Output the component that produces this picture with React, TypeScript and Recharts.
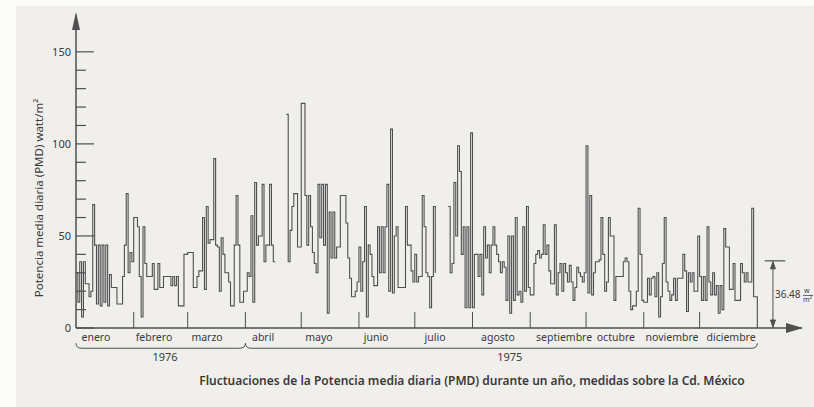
import { LineChart, Line, XAxis, YAxis, ReferenceLine, ReferenceDot } from "recharts";

// daily mean power (PMD), watt/m2, one value per day; null = no reading
const jan = [30, 14, 36, 6, 36, 24, 24, 17, 20, 67, 45, 13, 45, 12, 45, 14, 45, 12, 29, 22, 22, 22, 13, 13, 13, 28, 45, 73, 30, 41, 36];
const feb = [60, 60, 55, 28, 6, 55, 35, 28, 28, 28, 35, 21, 21, 35, 22, 22, 28, 28, 28, 28, 23, 28, 23, 28, 12, 12, 12, 40, 40];
const mar = [41, 41, 41, 22, 22, 28, 31, 31, 60, 21, 66, 46, 48, 48, 92, 45, 44, 20, 49, 40, 30, 30, 25, 12, 12, 45, 72, 45, 14, 14, 20];
const apr = [20, 30, 28, 61, 14, 79, 45, 50, 50, 78, 36, 45, 45, 78, 45, 36, 36, null, null, null, null, null, 116, 36, 53, 66, 73, 73, 44, 44];
const may = [122, 122, 72, 45, 72, 55, 41, 35, 30, 78, 49, 78, 45, 78, 8, 63, 38, 63, 38, 44, 44, 72, 72, 72, 57, 38, 27, 17, 17, 20, 25];
const jun = [44, 20, 36, 66, 6, 45, 40, 28, 23, 23, 55, 30, 55, 30, 55, 78, 20, 108, 19, 50, 55, 22, 22, 22, 22, 66, 45, 45, 31, 25];
const jul = [40, 25, 28, 28, 72, 55, 30, 28, 11, 28, 66, 30, null, null, null, null, null, null, 66, 30, 35, 79, 50, 99, 85, 40, 55, 11, 55, 11, 106];
const aug = [11, 40, 40, 28, 40, 18, 55, 38, 45, 30, 45, 55, 45, 40, 36, 30, 36, 33, 15, 50, 8, 50, 15, 60, 18, 20, 14, 55, 20, 66, 22];
const sep = [18, 18, 35, 40, 42, 38, 40, 56, 40, 45, 31, 24, 24, 56, 18, 30, 35, 20, 35, 30, 25, 34, 25, 15, 22, 33, 30, 28, 25, 30];
const oct = [99, 19, 72, 18, 30, 36, 36, 37, 60, 40, 20, 25, 60, 50, 50, 15, 28, 28, 28, 28, 36, 38, 36, 20, 10, 12, 12, 20, 65, 40, 15];
const nov = [14, 14, 27, 18, 27, 28, 17, 30, 6, 17, 35, 60, 25, 20, 15, 18, 27, 15, 27, 27, 27, 40, 31, 9, 30, 25, 30, 20, 20, 50];
const dec = [28, 15, 28, 15, 55, 25, 18, 30, 18, 23, 8, 23, 10, 54, 44, 44, 21, 21, 35, 15, 15, 15, 35, 30, 25, 30, 25, 25, 65, 17, 17];

const monthNames = ["enero", "febrero", "marzo", "abril", "mayo", "junio", "julio", "agosto", "septiembre", "octubre", "noviembre", "diciembre"];
// label centres, in days from the start of the axis
const monthLabelAt = [10.7, 41.9, 70.4, 100.5, 130.5, 161.2, 192.9, 226.7, 262.2, 290, 320.2, 351.9];
const yearLabels = ["1976", "1975"];
const yearLabelAt = [47.8, 233];
const yTicks = [0, 10, 20, 30, 40, 50, 60, 70, 80, 90, 100, 110, 120, 130, 140, 150];
const meanValue = 36.48;
const caption = "Fluctuaciones de la Potencia media diaria (PMD) durante un año, medidas sobre la Cd. México";

const months = [jan, feb, mar, apr, may, jun, jul, aug, sep, oct, nov, dec];
const monthEnds: number[] = [];
months.reduce((acc, m) => {
  monthEnds.push(acc + m.length);
  return acc + m.length;
}, 0);
const boundaryTicks = monthEnds.slice(0, -1);
const yearFrom = [0, monthEnds[2]];
const yearTo = [monthEnds[2], monthEnds[11]];

const values = months.flat();
const data = values.map((v, i) => ({ day: i, pmd: v })).concat([{ day: values.length, pmd: 0 }]);

const INK = "#3a3a3a";
const LINE = "#4f4f4f";
const FONT = "'Noto Sans', 'DejaVu Sans', sans-serif";

const MonthTick = (props: any) => {
  const { x, y, payload } = props;
  const v = payload.value;
  if (boundaryTicks.includes(v)) {
    return <line x1={x} x2={x} y1={y} y2={y - 16} stroke={LINE} strokeWidth={1} />;
  }
  const i = monthLabelAt.indexOf(v);
  return (
    <text x={x} y={y + 13} textAnchor="middle" fontSize={10.5} fill={INK} fontFamily={FONT}>
      {monthNames[i]}
    </text>
  );
};

const PowerTick = (props: any) => {
  const { x, y, payload } = props;
  const major = payload.value % 50 === 0;
  return (
    <g>
      <line x1={x} x2={x + (major ? 18 : 10)} y1={y} y2={y} stroke={LINE} strokeWidth={1.2} />
      {major && (
        <text x={x - 5} y={y + 4} textAnchor="end" fontSize={11} fill={INK} fontFamily={FONT}>
          {payload.value}
        </text>
      )}
    </g>
  );
};

const Brace = (p: any) => {
  const { x1, y1, x2 } = p;
  return (
    <path
      d={`M${x1},${y1 - 5} Q${x1},${y1} ${x1 + 6},${y1} L${x2 - 6},${y1} Q${x2},${y1} ${x2},${y1 - 5}`}
      fill="none"
      stroke={LINE}
      strokeWidth={1}
    />
  );
};

const DoubleArrow = (p: any) => {
  const { x1, y1, y2 } = p;
  const top = Math.min(y1, y2);
  const bot = Math.max(y1, y2);
  return (
    <g stroke={LINE} strokeWidth={1} fill={LINE}>
      <line x1={x1} x2={x1} y1={top} y2={bot} />
      <polygon points={`${x1},${top + 1} ${x1 - 2.5},${top + 8} ${x1 + 2.5},${top + 8}`} />
      <polygon points={`${x1},${bot - 1} ${x1 - 2.5},${bot - 8} ${x1 + 2.5},${bot - 8}`} />
    </g>
  );
};

export default function App() {
  return (
    <div style={{ position: "absolute", left: 0, top: 0, width: 814, height: 407, background: "#fbfbfa" }}>
      <div style={{ position: "absolute", left: 16, top: 6, right: 0, bottom: 0, background: "#f0efec" }} />
      <div style={{ position: "absolute", left: 0, top: 0 }}>
        <LineChart width={814} height={407} data={data} margin={{ top: 15, right: 12, bottom: 0, left: 0 }}>
          <XAxis
            type="number"
            dataKey="day"
            domain={[0, 390]}
            ticks={[...boundaryTicks, ...monthLabelAt]}
            interval={0}
            tick={MonthTick}
            tickLine={false}
            tickSize={0}
            tickMargin={0}
            height={79}
            axisLine={{ stroke: LINE, strokeWidth: 1.5 }}
          />
          <YAxis
            type="number"
            domain={[0, 170]}
            ticks={yTicks}
            interval={0}
            tick={PowerTick}
            tickLine={false}
            tickSize={0}
            tickMargin={0}
            width={76}
            axisLine={{ stroke: LINE, strokeWidth: 1.5 }}
          />
          <Line
            dataKey="pmd"
            type="stepAfter"
            stroke={LINE}
            strokeWidth={1.1}
            dot={false}
            connectNulls={false}
            isAnimationActive={false}
          />
          {/* axis arrow heads */}
          <ReferenceDot
            x={0}
            y={170}
            ifOverflow="visible"
            shape={(p: any) => (
              <polygon points={`${p.cx},${p.cy - 3} ${p.cx - 4},${p.cy + 15} ${p.cx + 4},${p.cy + 15}`} fill={LINE} />
            )}
          />
          <ReferenceDot
            x={390}
            y={0}
            ifOverflow="visible"
            shape={(p: any) => (
              <polygon points={`${p.cx + 1},${p.cy} ${p.cx - 16},${p.cy - 5} ${p.cx - 16},${p.cy + 5}`} fill={LINE} />
            )}
          />
          {/* axis title */}
          <ReferenceDot
            x={0}
            y={70.6}
            ifOverflow="visible"
            shape={(p: any) => (
              <text
                x={p.cx - 37}
                y={p.cy}
                transform={`rotate(-90 ${p.cx - 37} ${p.cy})`}
                textAnchor="middle"
                dominantBaseline="central"
                fontSize={11.5}
                fill={INK}
                fontFamily={FONT}
              >
                Potencia media diaria (PMD) watt/m²
              </text>
            )}
          />
          {/* year braces */}
          {yearLabels.map((lab, i) => (
            <ReferenceLine
              key={"b" + lab}
              segment={[
                { x: yearFrom[i], y: -11 },
                { x: yearTo[i], y: -11 },
              ]}
              ifOverflow="visible"
              shape={Brace}
            />
          ))}
          {yearLabels.map((lab, i) => (
            <ReferenceDot
              key={"y" + lab}
              x={yearLabelAt[i]}
              y={-18}
              ifOverflow="visible"
              shape={(p: any) => (
                <text x={p.cx} y={p.cy} textAnchor="middle" fontSize={11} fill={INK} fontFamily={FONT}>
                  {lab}
                </text>
              )}
            />
          ))}
          {/* mean marker */}
          <ReferenceLine
            segment={[
              { x: 370, y: meanValue },
              { x: 381, y: meanValue },
            ]}
            ifOverflow="visible"
            stroke={LINE}
            strokeWidth={1.2}
          />
          <ReferenceLine
            segment={[
              { x: 374.4, y: 0 },
              { x: 374.4, y: meanValue },
            ]}
            ifOverflow="visible"
            shape={DoubleArrow}
          />
          <ReferenceDot
            x={374.4}
            y={meanValue / 2}
            ifOverflow="visible"
            shape={(p: any) => (
              <g fontFamily={FONT} fill={INK}>
                <text x={p.cx + 2} y={p.cy + 4} fontSize={10}>
                  {meanValue.toFixed(2)}
                </text>
                <text x={p.cx + 31} y={p.cy - 1} fontSize={7}>
                  w
                </text>
                <line x1={p.cx + 30} x2={p.cx + 40} y1={p.cy + 1} y2={p.cy + 1} stroke={INK} strokeWidth={0.8} />
                <text x={p.cx + 30} y={p.cy + 8} fontSize={7}>
                  m²
                </text>
              </g>
            )}
          />
          {/* caption */}
          <ReferenceDot
            x={212.7}
            y={-31}
            ifOverflow="visible"
            shape={(p: any) => (
              <text x={p.cx} y={p.cy} textAnchor="middle" fontSize={12} fontWeight={600} fill={INK} fontFamily={FONT}>
                {caption}
              </text>
            )}
          />
        </LineChart>
      </div>
    </div>
  );
}
